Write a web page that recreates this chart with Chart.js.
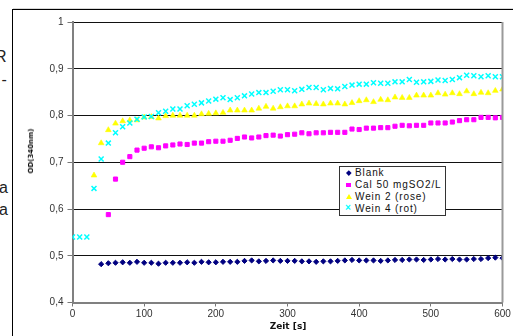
<!DOCTYPE html>
<html><head><meta charset="utf-8">
<script src="https://cdn.jsdelivr.net/npm/chart.js@4/dist/chart.umd.min.js"></script>
<style>
html,body{margin:0;padding:0;background:#fff;}
#wrap{position:relative;width:513px;height:336px;overflow:hidden;background:#fff;}
canvas{position:absolute;left:0;top:0;}
.frag{position:absolute;font:16px "Liberation Sans",Arial,sans-serif;color:#222;line-height:16px;white-space:nowrap;}
#ytitle{position:absolute;left:31px;top:150.5px;transform:translate(-50%,-50%) rotate(-90deg);font:bold 7px "DejaVu Sans",sans-serif;white-space:nowrap;color:#111;}
#xtitle{position:absolute;left:288px;top:326px;transform:translate(-50%,-50%);font:bold 9px "DejaVu Sans",sans-serif;color:#111;white-space:nowrap;}
#legend{position:absolute;left:339px;top:166px;width:105px;height:48px;border:1px solid #333;background:#fff;font:10px "Liberation Sans",Arial,sans-serif;letter-spacing:0.9px;color:#111;}
.row{position:absolute;left:0;height:12px;line-height:12px;width:105px;}
.row span.t{position:absolute;left:15px;top:0;}
.mk{position:absolute;}
</style>
</head><body>
<div id="wrap">
  <div class="frag" style="left:-5px;top:49px;">R</div>
  <div class="frag" style="left:1.5px;top:72px;">-</div>
  <div class="frag" style="left:-1px;top:179.5px;">a</div>
  <div class="frag" style="left:-1px;top:201.5px;">a</div>
  <canvas id="c" width="513" height="336"></canvas>
  <div id="ytitle">OD(340nm)</div>
  <div id="xtitle">Zeit [s]</div>
  <div id="legend"></div>
</div>
<script>
const seriesNames = ['Blank', 'Cal 50 mgSO2/L', 'Wein 2 (rose)', 'Wein 4 (rot)'];
const seriesColors = ['#000080', '#FF00FF', '#FFFF00', '#00FFFF'];

const times = [0,10,20,30,40,50,60,70,80,90,
  100,110,120,130,140,150,160,170,180,190,
  200,210,220,230,240,250,260,270,280,290,
  300,310,320,330,340,350,360,370,380,390,
  400,410,420,430,440,450,460,470,480,490,
  500,510,520,530,540,550,560,570,580,590,600];

const yTicks = [0.4, 0.5, 0.6, 0.7, 0.8, 0.9, 1];
const xTicks = [0, 100, 200, 300, 400, 500, 600];

const blank = [null,null,null,null,
  0.482,0.484,0.485,0.486,0.485,0.487,0.485,0.485,0.483,0.485,
  0.485,0.485,0.486,0.485,0.487,0.486,0.486,0.487,0.487,0.487,
  0.489,0.490,0.488,0.489,0.490,0.489,0.489,0.489,0.488,0.488,
  0.487,0.488,0.488,0.489,0.490,0.491,0.490,0.490,0.490,0.489,
  0.490,0.491,0.491,0.492,0.492,0.491,0.492,0.493,0.492,0.493,
  0.492,0.492,0.493,0.493,0.495,0.496,0.495];

const cal50 = [null,null,null,null,null,
  0.588,0.664,0.700,0.712,0.726,0.730,0.733,0.731,0.735,0.737,
  0.739,0.738,0.741,0.741,0.744,0.745,0.745,0.747,0.751,0.754,
  0.752,0.754,0.757,0.758,0.756,0.759,0.760,0.763,0.761,0.763,
  0.763,0.764,0.764,0.764,0.771,0.770,0.773,0.773,0.774,0.774,
  0.777,0.779,0.778,0.779,0.779,0.784,0.784,0.784,0.786,0.789,
  0.791,0.791,0.796,0.796,0.795,0.796];

const wein2 = [null,null,null,
  0.672,0.741,0.769,0.783,0.788,0.790,0.790,0.796,0.797,0.794,
  0.799,0.800,0.800,0.800,0.800,0.803,0.804,0.805,0.806,0.811,
  0.811,0.811,0.811,0.815,0.819,0.815,0.818,0.820,0.820,0.824,
  0.826,0.825,0.824,0.826,0.826,0.824,0.827,0.831,0.833,0.829,
  0.834,0.833,0.839,0.838,0.838,0.843,0.843,0.843,0.848,0.845,
  0.848,0.846,0.852,0.846,0.849,0.848,0.853,0.856];

const wein4 = [0.540,0.540,0.540,0.644,0.707,0.741,0.763,0.776,0.784,0.792,
  0.797,0.798,0.806,0.809,0.814,0.814,0.821,0.824,0.827,0.831,
  0.835,0.838,0.834,0.838,0.842,0.846,0.849,0.849,0.852,0.855,
  0.855,0.853,0.856,0.860,0.860,0.855,0.858,0.857,0.862,0.865,
  0.867,0.867,0.870,0.869,0.869,0.872,0.872,0.877,0.871,0.872,
  0.873,0.876,0.875,0.877,0.881,0.886,0.885,0.883,0.885,0.883,0.883];

function pts(arr){
  return times.map((t,i)=>({x:t,y:arr[i]})).filter(p=>p.y!==null && p.y!==undefined);
}

const styles = [
  {pointStyle:'rectRot', r:2.6, bw:1},
  {pointStyle:'rect', r:2.9, bw:1},
  {pointStyle:'triangle', r:3.3, bw:0.6},
  {pointStyle:'crossRot', r:3.5, bw:1.5}
];
const allSeries = [blank, cal50, wein2, wein4];

const datasets = allSeries.map((arr,i)=>({
  label: seriesNames[i],
  data: pts(arr),
  showLine:false,
  pointStyle: styles[i].pointStyle,
  pointRadius: styles[i].r,
  pointHoverRadius: styles[i].r,
  pointBorderWidth: styles[i].bw,
  backgroundColor: seriesColors[i],
  borderColor: seriesColors[i],
  order: 4 - i
}));

const framePlugin = {
  id:'frameExtras',
  beforeDraw(chart){
    const ctx = chart.ctx;
    ctx.save();
    ctx.fillStyle = '#000';
    ctx.fillRect(12, 9, 513, 1);
    ctx.fillRect(12, 9, 1, 336);
    ctx.fillStyle = '#d8d8d8';
    ctx.fillRect(13, 8, 513, 1);
    ctx.restore();
  },
  afterDraw(chart){
    const {ctx, chartArea:a} = chart;
    ctx.save();
    ctx.strokeStyle = '#9a9a9a';
    ctx.lineWidth = 2;
    ctx.beginPath();
    ctx.moveTo(a.right, a.top);
    ctx.lineTo(a.right, a.bottom);
    ctx.stroke();
    ctx.restore();
  }
};

function fmt(v){
  const r = Math.round(v*10)/10;
  return String(r).replace('.', ',');
}

new Chart(document.getElementById('c'), {
  type:'scatter',
  data:{datasets},
  options:{
    responsive:false,
    animation:false,
    devicePixelRatio:1,
    layout:{padding:{left:0,right:10.5,top:22,bottom:0}},
    plugins:{legend:{display:false},tooltip:{enabled:false}},
    scales:{
      x:{
        type:'linear', min:0, max:600,
        afterBuildTicks(s){ s.ticks = xTicks.map(v=>({value:v})); },
        ticks:{font:{family:'Liberation Sans',size:10},color:'#333',padding:2,maxRotation:0,autoSkip:false,
          callback:v=>String(v)},
        grid:{display:true,drawOnChartArea:false,drawTicks:true,tickLength:4,tickColor:'#777',lineWidth:1},
        border:{display:true,color:'#808080',width:2},
        afterFit(s){ s.height = 33.5; }
      },
      y:{
        type:'linear', min:0.4, max:1,
        afterBuildTicks(s){ s.ticks = yTicks.map(v=>({value:v})); },
        ticks:{font:{family:'Liberation Sans',size:10},color:'#333',padding:4,autoSkip:false,
          callback:v=>fmt(v)},
        grid:{color:c=> (c.tick && Math.abs(c.tick.value-0.4)<1e-6) ? 'rgba(0,0,0,0)' : '#111',
              lineWidth:1,drawTicks:true,tickLength:5,tickColor:'#777'},
        border:{display:true,color:'#808080',width:2},
        afterFit(s){ s.width = 72.5; }
      }
    }
  },
  plugins:[framePlugin]
});

// HTML legend
const legend = document.getElementById('legend');
const markerHTML = [
  '<span class="mk" style="left:6.5px;top:4px;width:3.6px;height:3.6px;background:#000080;transform:rotate(45deg);"></span>',
  '<span class="mk" style="left:6px;top:4px;width:5px;height:4px;background:#FF00FF;"></span>',
  '<span class="mk" style="left:5.5px;top:3px;width:0;height:0;border-left:3px solid transparent;border-right:3px solid transparent;border-bottom:5px solid #FFFF00;"></span>',
  '<span class="mk" style="left:5px;top:-1px;font:bold 10px \'Liberation Sans\',Arial;color:#00FFFF;letter-spacing:0;">×</span>'
];
seriesNames.forEach((n,i)=>{
  const row = document.createElement('div');
  row.className='row';
  row.style.top = (i*12)+'px';
  row.innerHTML = markerHTML[i] + '<span class="t">'+n+'</span>';
  legend.appendChild(row);
});
</script>
</body></html>
